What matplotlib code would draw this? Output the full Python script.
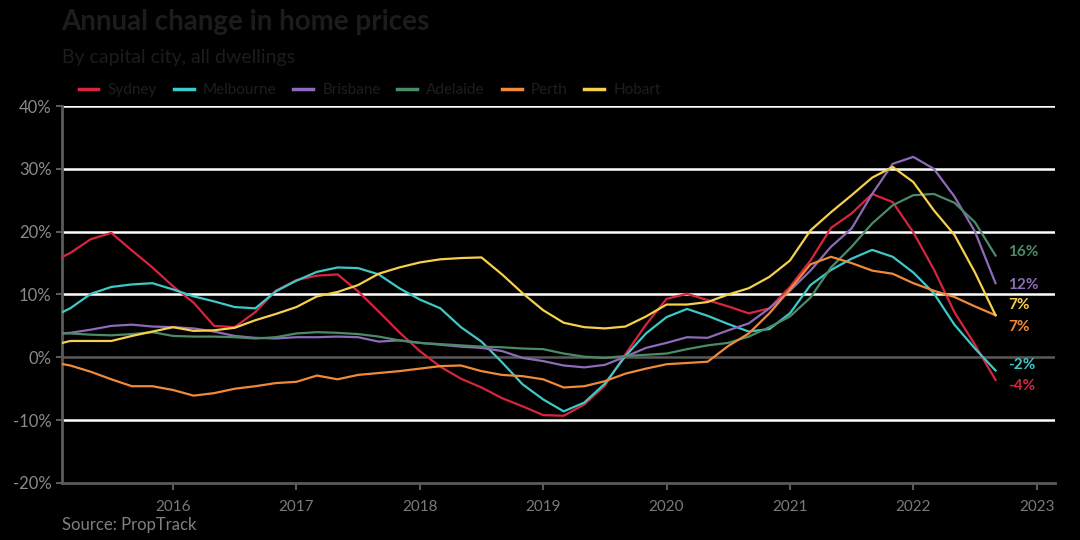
import matplotlib
matplotlib.use("Agg")
import matplotlib.pyplot as plt
from matplotlib.lines import Line2D

plt.rcParams['font.family'] = ['Lato', 'DejaVu Sans']

# Dates: Feb 2015, then every two months Mar 2015 .. Sep 2022
years = [2015] + [2015]*5 + [y for y in range(2016, 2022) for _ in range(6)] + [2022]*5
months = [2] + [3, 5, 7, 9, 11] + [1, 3, 5, 7, 9, 11]*6 + [1, 3, 5, 7, 9]

sydney = [15.8, 16.6, 18.8, 19.8, 17.0, 14.3, 11.3, 8.7, 5.0, 4.8, 7.2, 10.6,
          12.3, 13.0, 13.2, 10.5, 7.3, 4.0, 1.0, -1.5, -3.4, -4.8, -6.5, -7.8,
          -9.2, -9.3, -7.5, -4.5, 0.5, 5.2, 9.3, 10.1, 9.1, 8.1, 7.0, 7.8,
          11.2, 15.4, 20.6, 22.9, 26.0, 24.7, 19.9, 14.0, 7.2, 2.0, -3.6]
melbourne = [7.0, 7.8, 10.1, 11.2, 11.6, 11.8, 10.8, 9.7, 8.9, 8.0, 7.8, 10.5,
             12.2, 13.6, 14.3, 14.2, 13.2, 11.0, 9.2, 7.8, 4.8, 2.5, -0.8, -4.3,
             -6.7, -8.6, -7.2, -4.2, 0.2, 3.8, 6.4, 7.7, 6.6, 5.3, 4.1, 4.5,
             7.0, 11.5, 13.9, 15.7, 17.1, 16.0, 13.5, 10.2, 5.2, 1.4, -2.1]
brisbane = [3.8, 3.9, 4.4, 5.0, 5.2, 4.9, 4.8, 4.6, 4.1, 3.4, 3.1, 3.0,
            3.2, 3.2, 3.3, 3.2, 2.5, 2.7, 2.3, 2.0, 1.7, 1.5, 1.0, -0.1,
            -0.6, -1.3, -1.6, -1.2, 0.1, 1.5, 2.3, 3.2, 3.1, 4.3, 5.4, 7.8,
            10.6, 13.8, 17.6, 20.5, 26.0, 30.8, 31.9, 30.0, 25.6, 20.0, 11.8]
adelaide = [3.8, 3.8, 3.6, 3.5, 3.7, 4.0, 3.4, 3.3, 3.3, 3.2, 3.0, 3.2,
            3.8, 4.0, 3.9, 3.7, 3.3, 2.7, 2.3, 2.1, 1.9, 1.7, 1.6, 1.4,
            1.3, 0.6, 0.1, -0.1, 0.2, 0.4, 0.6, 1.3, 1.9, 2.3, 3.3, 4.8,
            6.5, 9.5, 14.3, 17.6, 21.3, 24.2, 25.8, 26.0, 24.6, 21.5, 16.2]
perth = [-1.0, -1.3, -2.3, -3.5, -4.6, -4.6, -5.2, -6.1, -5.7, -5.0, -4.6, -4.1,
         -3.9, -2.9, -3.5, -2.8, -2.5, -2.2, -1.8, -1.4, -1.3, -2.2, -2.8, -3.0,
         -3.5, -4.8, -4.6, -3.8, -2.6, -1.8, -1.1, -0.9, -0.7, 1.8, 3.8, 7.0,
         10.8, 14.8, 16.0, 15.0, 13.8, 13.3, 11.8, 10.6, 9.6, 8.1, 6.7]
hobart = [2.2, 2.6, 2.6, 2.6, 3.4, 4.1, 4.8, 4.2, 4.3, 4.7, 5.9, 6.9,
          8.0, 9.7, 10.4, 11.5, 13.3, 14.3, 15.1, 15.6, 15.8, 15.9, 13.2, 10.2,
          7.5, 5.5, 4.8, 4.6, 4.9, 6.5, 8.4, 8.4, 8.8, 10.0, 11.0, 12.8,
          15.4, 20.2, 23.1, 25.8, 28.6, 30.3, 27.9, 23.4, 19.5, 13.5, 6.7]

cities = ['Sydney', 'Melbourne', 'Brisbane', 'Adelaide', 'Perth', 'Hobart']
series = [sydney, melbourne, brisbane, adelaide, perth, hobart]
colors = ['#d8243f', '#3ec8c8', '#8c6bb8', '#4b8b66', '#ef8a3a', '#f6d04d']
end_labels = ['-4%', '-2%', '12%', '16%', '7%', '7%']
label_offsets = [-0.9, 0.8, -0.3, 0.5, -1.9, 1.6]

yticks = [-20, -10, 0, 10, 20, 30, 40]
xtick_years = [2016, 2017, 2018, 2019, 2020, 2021, 2022, 2023]

t = [y + (m - 1) / 12 for y, m in zip(years, months)]

fig = plt.figure(figsize=(10.8, 5.4), dpi=100, facecolor='black')
ax = fig.add_axes([0.0574, 0.1056, 0.9196, 0.6981], facecolor='black')

for v in yticks:
    if v in (-20,):
        continue
    col = '#5a5a5a' if v == 0 else 'white'
    ax.axhline(v, color=col, lw=1.8, zorder=1)

for name, s, c in zip(cities, series, colors):
    ax.plot(t, s, color=c, lw=1.6, label=name, zorder=3)

for s, c, lab, off in zip(series, colors, end_labels, label_offsets):
    ax.annotate(lab, xy=(t[-1], s[-1] + off), xytext=(9, 0), textcoords='offset points',
                color=c, fontsize=11, fontweight='bold', va='center', ha='left')

ax.set_xlim(2015.1, 2023.15)
ax.set_ylim(-20, 40)
ax.set_yticks(yticks)
ax.set_yticklabels([f'{v}%' for v in yticks])
ax.set_xticks(xtick_years)
ax.set_xticklabels([str(y) for y in xtick_years])
ax.tick_params(axis='y', colors='#5a5a5a', labelcolor='#8a8a8a', labelsize=12, length=4, width=1.5)
ax.tick_params(axis='x', colors='#5a5a5a', labelcolor='#7a7a7a', labelsize=11, length=5, width=1.5, pad=7)
for side in ('top', 'right'):
    ax.spines[side].set_visible(False)
for side in ('left', 'bottom'):
    ax.spines[side].set_color('#5a5a5a')
    ax.spines[side].set_linewidth(2)

handles = [Line2D([0], [0], color=c, lw=2.5) for c in colors]
fig.legend(handles, cities, loc='center left', bbox_to_anchor=(0.06, 0.833), ncol=6,
           frameon=False, fontsize=11, labelcolor='#1e1e1e', handlelength=1.3,
           handletextpad=0.6, columnspacing=1.1)

fig.text(0.057, 0.96, 'Annual change in home prices', color='#1c1c1c', fontsize=20,
         fontweight='bold', va='center', ha='left')
fig.text(0.057, 0.893, 'By capital city, all dwellings', color='#1c1c1c', fontsize=14,
         va='center', ha='left')
fig.text(0.057, 0.028, 'Source: PropTrack', color='#808080', fontsize=12,
         va='center', ha='left')

fig.savefig('out.png', dpi=100, facecolor='black')
